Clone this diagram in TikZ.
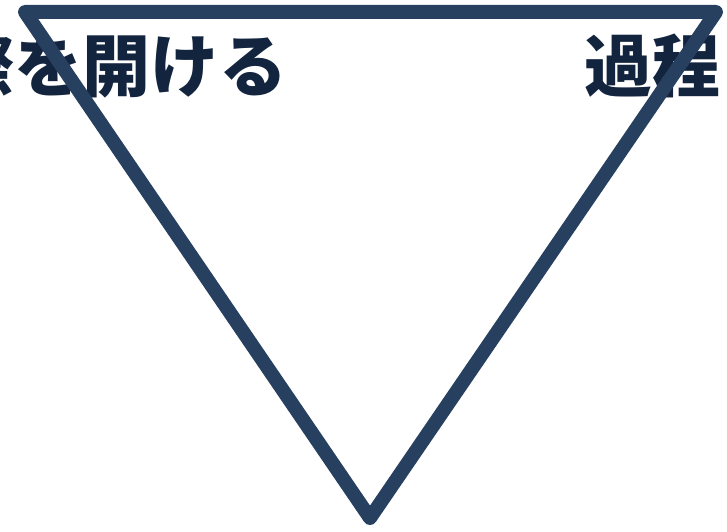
\documentclass[tikz,border=0pt]{standalone}
\usepackage{fontspec}
\newfontfamily\cjk{Noto Sans CJK JP}
\definecolor{tri}{HTML}{27405F}
\definecolor{txt}{HTML}{13243F}
\tikzset{
  lbl/.style={inner sep=0pt, outer sep=0pt, text=txt, font=\cjk\bfseries\fontsize{68}{68}\selectfont},
  triline/.style={draw=tri, line width=14pt, line cap=round, line join=round}
}
\begin{document}
\begin{tikzpicture}[x=1pt,y=1pt]
\useasboundingbox (0,0) rectangle (727,531);
\node[lbl, anchor=base east] (left) at (287,439) {際を開ける};
\node[lbl, anchor=base west] (right) at (584,439) {過程};
\coordinate (tl) at (25,519);
\coordinate (tr) at (716,519);
\coordinate (bt) at (370,13);
\draw[triline] (tl) -- (tr) -- (bt) -- cycle;
\end{tikzpicture}
\end{document}
